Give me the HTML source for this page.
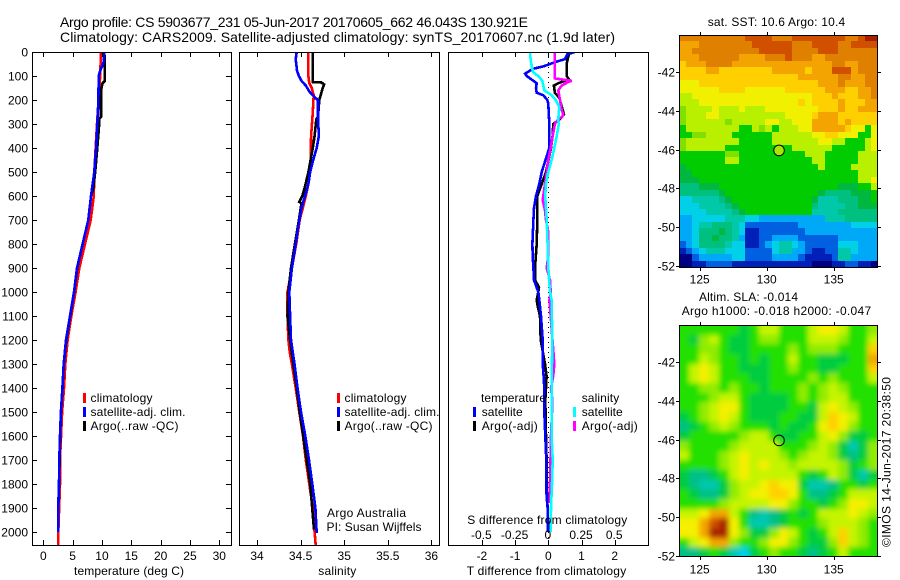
<!DOCTYPE html>
<html>
<head>
<meta charset="utf-8">
<title>Argo profile</title>
<style>
html,body{margin:0;padding:0;background:#fff;}
svg{display:block;}
text{font-family:"Liberation Sans",sans-serif;font-size:12px;fill:#000;}
.title{font-size:14px;}
</style>
</head>
<body>
<svg id="fig" xmlns="http://www.w3.org/2000/svg" width="900" height="580" viewBox="0 0 900 580">
  <rect x="0" y="0" width="900" height="580" fill="#fff"/>
  <defs>
    <clipPath id="clipP1"><rect x="32" y="52" width="200" height="494"/></clipPath>
    <clipPath id="clipP2"><rect x="239" y="52" width="201" height="494"/></clipPath>
    <clipPath id="clipP3"><rect x="448" y="52" width="201" height="494"/></clipPath>
    <clipPath id="clipM2"><rect x="679" y="325" width="199" height="232"/></clipPath>
    <filter id="smooth" x="-10%" y="-10%" width="120%" height="120%"><feGaussianBlur stdDeviation="2.6"/></filter>
  </defs>

  <text class="title" x="60" y="27" textLength="468" lengthAdjust="spacing">Argo profile: CS 5903677_231 05-Jun-2017 20170605_662 46.043S 130.921E</text>
  <text class="title" x="60" y="42" textLength="555" lengthAdjust="spacing">Climatology: CARS2009. Satellite-adjusted climatology: synTS_20170607.nc (1.9d later)</text>

  <g id="panels"></g>
  <g id="maps"></g>

  <g>
    <rect x="83" y="393" width="3" height="10" fill="#f00"/>
    <rect x="83" y="407" width="3" height="10" fill="#00f"/>
    <rect x="83" y="421" width="3" height="10" fill="#000"/>
    <text x="90.5" y="402" textLength="62">climatology</text>
    <text x="90.5" y="416" textLength="95">satellite-adj. clim.</text>
    <text x="90.5" y="430" textLength="88">Argo(..raw -QC)</text>
  </g>
  <g>
    <rect x="337" y="393" width="3" height="10" fill="#f00"/>
    <rect x="337" y="407" width="3" height="10" fill="#00f"/>
    <rect x="337" y="421" width="3" height="10" fill="#000"/>
    <text x="344.5" y="402" textLength="62">climatology</text>
    <text x="344.5" y="416" textLength="95">satellite-adj. clim.</text>
    <text x="344.5" y="430" textLength="88">Argo(..raw -QC)</text>
    <text x="327" y="517" textLength="79">Argo Australia</text>
    <text x="326.5" y="531" textLength="95">PI: Susan Wijffels</text>
  </g>
  <g>
    <text x="481" y="402" textLength="65">temperature</text>
    <text x="581.7" y="402" textLength="37.5">salinity</text>
    <rect x="473" y="407" width="3" height="10" fill="#00f"/>
    <rect x="473" y="421" width="3" height="10" fill="#000"/>
    <rect x="573" y="407" width="3" height="10" fill="#0ff"/>
    <rect x="573" y="421" width="3" height="10" fill="#f0f"/>
    <text x="481.7" y="416" textLength="41">satellite</text>
    <text x="481.7" y="430" textLength="56">Argo(-adj)</text>
    <text x="581.7" y="416" textLength="41">satellite</text>
    <text x="581.7" y="430" textLength="56">Argo(-adj)</text>
  </g>

  <text x="74" y="575" textLength="110">temperature (deg C)</text>
  <text x="318.3" y="575" textLength="38">salinity</text>
  <text x="466.7" y="575" textLength="159.5">T difference from climatology</text>
  <text x="467.3" y="524" textLength="160">S difference from climatology</text>

  <text x="707.7" y="26" textLength="137.5">sat. SST: 10.6 Argo: 10.4</text>
  <text x="699" y="301" textLength="99">Altim. SLA: -0.014</text>
  <text x="681.7" y="315" textLength="189.5">Argo h1000: -0.018 h2000: -0.047</text>
  <text transform="translate(890.5,547) rotate(-90)" textLength="170">©IMOS 14-Jun-2017 20:38:50</text>
</svg>

<script>
// ---------- tick values ----------
const depthTicks = [0,100,200,300,400,500,600,700,800,900,1000,1100,1200,1300,1400,1500,1600,1700,1800,1900,2000];
const tempTicks = [0,5,10,15,20,25,30];
const salinityTicks = [34,34.5,35,35.5,36];
const tDiffTicks = [-2,-1,0,1,2];
const sDiffTicks = [-0.5,-0.25,0,0.25,0.5];
const lonTicks = [125,130,135];
const latTicks = [42,44,46,48,50,52];

// ---------- temperature panel ----------
const tempClimDepth = [0,100,300,500,600,700,800,900,1000,1100,1200,1300,1400,1500,1700,1800,2000,2054];
const tempClim = [9.84,9.7,9.15,8.7,8.6,8.08,7.1,6.14,5.5,4.78,4.15,3.75,3.53,3.2,2.85,2.85,2.56,2.55];
const tempSatDepth = [0,40,60,80,100,200,300,400,500,600,700,800,900,1000,1100,1200,1300,1400,1500,1600,1700,1800,1900,2000];
const tempSat = [10.4,10.3,10.0,9.66,9.44,9.4,9.2,9.0,8.7,8.13,7.67,6.7,5.75,5.23,4.55,3.87,3.47,3.25,3.0,2.85,2.73,2.68,2.55,2.55];
const tempArgoDepth = [0,50,120,130,160,270,280,310,400,500,570,600,700,800,900,1000,1100,1200,1300,1400,1500,1600,1700,1800,1900,1990];
const tempArgo = [10.4,10.5,10.5,10.1,9.83,9.83,9.5,9.5,9.2,8.85,8.5,8.13,7.67,6.7,5.78,5.25,4.58,3.92,3.5,3.27,3.02,2.87,2.78,2.7,2.52,2.55];

// ---------- salinity panel ----------
const salClimDepth = [0,100,130,150,180,250,350,450,500,550,600,700,800,900,1000,1050,1100,1200,1250,1300,1400,1500,1600,1700,1800,1900,2000,2054];
const salClim = [34.59,34.59,34.6,34.627,34.65,34.64,34.62,34.615,34.61,34.59,34.56,34.49,34.45,34.4,34.35,34.345,34.35,34.36,34.375,34.4,34.444,34.485,34.527,34.56,34.6,34.64,34.66,34.673];
const salSatDepth = [0,30,80,100,120,140,170,190,200,280,350,400,450,500,550,600,650,700,800,900,1000,1100,1200,1300,1400,1500,1600,1700,1800,1900,2005];
const salSat = [34.455,34.444,34.46,34.48,34.51,34.56,34.61,34.665,34.7,34.7,34.71,34.685,34.645,34.61,34.59,34.55,34.51,34.485,34.444,34.4,34.37,34.38,34.39,34.43,34.465,34.505,34.554,34.596,34.634,34.67,34.685];
const salArgoDepth = [0,100,125,127,135,150,200,270,280,350,400,450,500,530,560,600,625,630,700,800,900,1000,1100,1200,1300,1400,1500,1800,1990];
const salArgo = [34.64,34.64,34.64,34.74,34.77,34.754,34.715,34.7,34.68,34.66,34.64,34.615,34.59,34.57,34.55,34.52,34.485,34.51,34.48,34.435,34.39,34.36,34.35,34.38,34.416,34.455,34.49,34.61,34.654];

// ---------- difference panel ----------
const dTempSatDepth = [0,10,30,40,60,70,90,100,115,130,150,170,180,200,215,300,400,500,550,600,650,700,800,850,900,950,1000,1033,1100,1200,1300,1330,1400,1500,1600,1700,1800,1850,1900,2000];
const dTempSat = [0.8,0.57,0.5,0.25,-0.15,-0.46,-0.7,-0.65,-0.5,-0.35,-0.37,-0.35,-0.15,-0.03,0,0.03,0.03,-0.2,-0.27,-0.37,-0.43,-0.45,-0.48,-0.47,-0.45,-0.43,-0.3,-0.27,-0.22,-0.17,-0.17,-0.15,-0.12,-0.12,-0.09,-0.06,-0.06,-0.05,-0.02,-0.01];
const dTempArgoDepth = [0,20,50,100,115,120,130,140,170,190,200,240,260,270,280,300,350,400,500,550,600,650,700,800,900,950,980,1000,1033,1060,1100,1200,1300,1350,1400,1450,1600,1700,1800,1900,2000];
const dTempArgo = [0.65,0.6,0.55,0.55,0.63,0.5,0.3,0.17,0.2,0.33,0.35,0.43,0.47,0.4,0.35,0.15,0.13,0.08,-0.07,-0.2,-0.33,-0.33,-0.33,-0.35,-0.4,-0.4,-0.28,-0.3,-0.35,-0.32,-0.25,-0.23,-0.1,-0.05,-0.07,-0.09,-0.07,-0.05,-0.05,-0.02,0];
const dSalSatDepth = [0,30,60,85,100,120,140,160,180,200,230,280,300,350,400,450,500,550,600,650,700,800,900,1000,1033,1200,1400,1450,1600,1700,1800,1900,2000];
const dSalSat = [-0.138,-0.133,-0.125,-0.113,-0.075,-0.045,-0.038,-0.03,0.025,0.056,0.083,0.075,0.08,0.063,0.045,0.025,0,-0.017,-0.023,-0.017,-0.012,-0.005,0,0.013,0.025,0.03,0.025,0.025,0.025,0.033,0.028,0.02,0.018];
const dSalArgoDepth = [0,100,110,115,120,125,140,160,200,240,260,270,280,300,350,400,450,500,550,600,617,660,700,750,850,900,950,1000,1033,1100,1300,1350,1400,1450,1500,1600,1800,1880];
const dSalArgo = [0.05,0.05,0.05,0.11,0.176,0.15,0.1,0.075,0.088,0.1,0.113,0.105,0.075,0.05,0.033,0.018,0,-0.012,-0.025,-0.038,-0.042,-0.025,-0.017,0,0,-0.012,0.013,0.018,0.008,0.018,0.045,0.037,0.02,0.03,0.028,0.02,0.013,0.013];

// ---------- maps (colour-scale level per grid cell, north to south) ----------
const argoLon = 130.921;
const argoLat = 46.043;
const sstLevels = [
[14,14,14,14,14,14,14,14,14,14,15,15,15,15,14,14,14,15,15,15,15,15,15,15,15,14,14,15,16,16],
[13,13,13,14,14,14,14,14,14,14,14,15,15,15,15,15,15,14,14,14,15,15,15,15,14,14,15,15,15,15],
[13,13,14,14,14,14,14,14,14,14,14,14,15,15,15,15,15,14,14,14,14,15,15,15,14,14,14,14,14,14],
[13,13,13,14,14,14,14,14,14,13,13,13,13,14,14,14,15,14,14,14,13,13,14,14,14,14,14,14,14,14],
[12,13,13,13,14,14,14,14,13,13,13,13,13,13,13,13,13,13,13,13,13,13,13,14,14,13,13,14,14,14],
[12,12,12,12,13,13,12,12,12,12,12,12,12,12,13,13,13,13,13,12,13,13,13,15,15,15,13,14,14,14],
[12,12,12,12,12,12,12,12,12,12,12,12,12,12,12,12,12,12,13,13,13,13,13,13,14,14,13,13,14,14],
[11,11,11,12,12,12,12,12,12,12,12,12,12,12,12,12,12,12,12,12,12,13,13,13,14,13,13,13,14,14],
[11,11,11,11,11,11,12,12,12,12,11,11,11,11,11,11,12,12,12,12,12,12,13,13,13,12,12,13,13,14],
[10,10,11,11,11,11,11,11,11,11,11,11,11,11,11,11,11,11,11,11,12,12,12,13,12,12,12,13,13,14],
[10,10,10,11,11,11,11,11,11,11,11,11,11,11,11,11,11,11,12,11,12,12,12,12,13,12,12,12,13,13],
[9,10,10,10,10,11,10,10,10,11,10,10,10,11,11,11,11,11,11,11,11,12,12,12,13,12,12,13,13,13],
[9,10,10,10,11,11,10,10,10,10,10,10,10,10,10,10,11,11,11,11,12,13,13,13,12,12,12,12,12,12],
[9,10,10,10,10,10,10,9,10,10,10,10,10,11,11,10,10,11,11,11,13,13,13,13,12,13,12,12,12,12],
[8,10,10,10,10,10,10,10,10,8,8,10,9,10,8,10,10,10,11,11,13,13,13,13,13,12,11,11,8,11],
[8,8,9,9,10,10,10,10,8,8,8,8,8,8,10,10,10,10,10,10,11,11,12,12,11,11,11,8,8,11],
[9,10,10,10,10,10,10,10,10,8,8,8,8,8,10,10,10,10,10,10,10,11,11,10,10,8,8,8,10,11],
[9,10,10,10,10,10,10,8,8,8,8,8,8,8,8,8,8,10,10,10,10,10,10,8,8,8,8,8,10,11],
[8,8,8,8,8,8,8,9,9,8,8,8,8,8,8,8,8,8,8,10,10,10,8,8,8,8,8,10,10,10],
[8,8,8,8,8,8,8,10,10,8,8,8,8,8,8,8,8,8,8,8,10,10,8,8,8,8,8,10,10,10],
[7,8,8,8,8,8,8,8,8,8,8,8,8,8,8,8,8,8,8,8,8,10,8,8,8,8,10,10,10,10],
[7,7,8,8,8,8,8,8,8,8,8,8,8,8,8,8,8,8,8,8,8,8,8,8,8,8,8,10,10,10],
[7,7,7,8,8,8,8,8,8,8,8,8,8,8,8,8,8,8,8,8,8,8,8,8,8,8,8,10,10,11],
[6,6,6,7,7,7,8,8,8,8,8,8,8,8,8,8,8,8,8,8,8,8,8,8,7,7,7,8,8,10],
[6,6,6,6,6,6,7,8,8,8,8,8,8,8,8,8,8,8,8,8,8,7,6,6,6,6,7,7,7,8],
[4,4,5,5,5,5,6,7,8,8,8,8,8,8,8,8,8,8,8,8,7,5,5,5,6,6,6,7,7,8],
[4,4,4,5,5,5,5,6,7,8,8,8,8,8,8,8,8,8,8,8,6,5,5,5,5,6,6,7,7,7],
[4,4,4,4,5,5,5,5,6,7,8,8,8,8,8,8,8,8,8,8,5,5,5,5,6,6,6,6,6,6],
[3,3,4,4,4,4,4,5,5,5,4,4,3,3,3,3,3,3,3,3,3,3,5,5,5,6,6,6,6,6],
[3,3,4,5,5,6,6,6,5,4,2,2,2,2,2,2,2,2,3,3,3,3,3,3,3,3,4,4,4,4],
[3,3,4,6,6,6,7,6,5,4,1,1,2,2,2,2,2,2,2,3,3,3,3,3,3,3,3,3,3,3],
[3,3,4,6,6,7,6,6,5,3,1,1,2,2,3,3,3,3,2,2,2,2,2,2,3,3,3,3,3,3],
[2,3,4,6,6,6,6,5,4,4,1,1,2,3,4,5,5,4,3,2,2,2,2,2,4,4,4,3,3,3],
[1,2,3,4,5,5,5,4,4,4,2,2,2,2,4,5,5,3,3,2,1,1,2,2,5,5,4,3,3,3],
[0,0,2,3,3,3,3,3,4,4,2,2,2,2,3,3,3,3,2,1,1,1,1,2,5,5,3,3,3,3],
[0,0,1,1,2,2,2,2,1,1,1,1,1,1,1,1,1,1,1,1,0,0,0,1,1,2,2,1,1,0]
];
const slaLevels = [
[8,8,8,8,8,8,7,8,10,10,8,8,8,10,11,11,10,8,8,9],
[8,7,9,10,8,7,7,8,9,9,8,8,8,10,10,10,9,8,8,10],
[8,8,9,9,8,7,7,8,8,8,8,9,8,9,9,9,8,8,8,12],
[8,8,10,9,8,8,7,8,7,8,8,10,8,8,7,7,7,8,8,13],
[8,10,11,10,8,8,7,7,7,8,8,9,8,8,7,7,8,8,8,12],
[8,10,11,10,8,8,8,7,7,8,8,8,8,9,8,9,8,8,8,10],
[8,8,9,9,8,9,8,8,7,8,8,8,9,8,9,10,9,8,8,8],
[8,8,8,9,10,10,8,7,7,7,7,8,9,8,9,10,10,8,8,8],
[8,8,9,10,11,11,8,7,7,7,7,8,8,7,10,11,10,9,8,8],
[7,8,9,10,11,10,8,7,7,7,8,8,7,7,10,12,11,10,8,8],
[6,7,8,9,10,9,8,8,8,7,8,7,7,8,11,12,11,9,8,8],
[7,8,8,8,8,8,9,10,10,8,7,7,8,8,10,11,9,7,7,8],
[9,8,8,8,8,9,10,10,10,10,8,8,8,9,10,9,7,5,7,9],
[10,8,8,8,9,10,11,10,10,10,9,8,9,10,10,9,7,6,7,9],
[8,8,8,8,9,10,11,10,11,10,10,9,10,10,10,10,9,7,8,9],
[7,6,6,7,8,10,11,10,10,10,10,10,8,7,8,10,9,7,5,7],
[7,6,5,5,7,9,10,10,11,12,11,11,7,5,5,6,8,8,7,8],
[8,7,6,6,7,9,10,11,11,12,12,11,8,6,6,7,8,10,10,10],
[8,8,8,8,9,10,10,10,10,11,11,9,8,8,7,8,9,11,11,10],
[10,10,11,13,13,10,8,6,5,6,7,8,7,8,10,10,10,11,10,9],
[11,11,13,15,16,11,8,5,5,6,7,8,8,8,9,10,10,10,9,8],
[11,11,13,16,16,11,9,7,7,9,11,10,8,7,8,10,12,10,9,8],
[8,10,11,13,13,9,8,8,9,11,11,9,8,7,7,9,12,10,9,8],
[6,6,7,8,7,5,4,7,8,9,8,8,7,6,7,8,10,8,8,8]
];

// ---------- colour scales ----------
const sstColors = ['#000080','#0020b8','#0060e0','#00a8f8','#00d0e8','#00c8a8','#00c080','#00b840','#00cc00','#80e000','#b8f000','#f0f000','#ffd000','#f4a400','#e08000','#d05000','#a82000'];
const slaColors = ['#000080','#0020b8','#0060e0','#00a8f8','#00d0e8','#00c8b0','#00c088','#00cc40','#20e000','#90ec00','#c4f400','#f4f000','#ffd000','#f4a400','#e08000','#d05000','#a82000'];
function levelColor(scale, v){
  return scale[Math.max(0,Math.min(scale.length-1,Math.round(v)))];
}

// ---------- axis functions ----------
function yDepth(d){ return 52 + d*0.24; }
function xTemp(t){ return 43.3 + t*5.867; }
function xSal(s){ return 257 + (s-34)*87.2; }
function xTDiff(t){ return 548.3 + t*33.2; }
function xSDiff(s){ return 548.3 + s*132.8; }
function xLon(lon){ return 699.7 + (lon-125)*13.4; }
function yLat1(lat){ return 72.3 + (lat-42)*19.33; }
function yLat2(lat){ return 362.3 + (lat-42)*19.33; }

const NS = 'http://www.w3.org/2000/svg';
function mk(parent, tag, attrs){
  const el = document.createElementNS(NS, tag);
  for (const k in attrs) el.setAttribute(k, attrs[k]);
  parent.appendChild(el);
  return el;
}
function tickLine(parent, name, x1, y1, x2, y2){
  const el = mk(parent, 'line', {x1:x1, y1:y1, x2:x2, y2:y2, stroke:'#000', 'stroke-width':1, 'shape-rendering':'crispEdges'});
  
  
  return el;
}
function label(parent, name, x, y, str, anchor){
  const el = mk(parent, 'text', {x:x, y:y, 'text-anchor':anchor});
  el.textContent = str;
  
  
  return el;
}
function frame(parent, name, x0, y0, x1, y1){
  const el = mk(parent, 'rect', {x:x0+0.5, y:y0+0.5, width:x1-x0, height:y1-y0, fill:'none', stroke:'#000', 'stroke-width':1, 'shape-rendering':'crispEdges'});
  
  
  return el;
}
function profile(parent, name, depths, values, xFn, color, clipId){
  const pts = depths.map(function(d,i){ return xFn(values[i]).toFixed(1)+','+yDepth(d).toFixed(1); }).join(' ');
  const el = mk(parent, 'polyline', {points:pts, fill:'none', stroke:color, 'stroke-width':2.6, 'stroke-linejoin':'miter', 'shape-rendering':'crispEdges', 'clip-path':'url(#'+clipId+')'});
  
  
  return el;
}
function grid(parent, name, levels, scale, x0, y0, x1, y1, bleed){
  const lonMin = 125 + (x0-699.7)/13.4, lonMax = 125 + (x1-699.7)/13.4;
  const nr = levels.length;
  levels.forEach(function(row,r){
    const nc = row.length;
    row.forEach(function(v,c){
      const lonA = lonMin + (lonMax-lonMin)*c/nc, lonB = lonMin + (lonMax-lonMin)*(c+1)/nc;
      let xa = Math.round(xLon(lonA)), xb = Math.round(xLon(lonB));
      let ya = Math.round(y0 + (y1-y0)*r/nr), yb = Math.round(y0 + (y1-y0)*(r+1)/nr);
      if (bleed){
        if (c===0) xa -= 14;
        if (c===nc-1) xb += 14;
        if (r===0) ya -= 14;
        if (r===nr-1) yb += 14;
      }
      const el = mk(parent, 'rect', {x:xa, y:ya, width:xb-xa, height:yb-ya, fill:levelColor(scale, v), 'shape-rendering':'crispEdges'});
      
      
    });
  });
}

const panels = document.getElementById('panels');
const maps = document.getElementById('maps');

// ---------- panel 1: temperature ----------
const p1 = mk(panels, 'g', {});


profile(p1, 'temperature-climatology-line', tempClimDepth, tempClim, xTemp, '#f00', 'clipP1');
profile(p1, 'temperature-argo-line', tempArgoDepth, tempArgo, xTemp, '#000', 'clipP1');
profile(p1, 'temperature-satellite-line', tempSatDepth, tempSat, xTemp, '#00f', 'clipP1');
frame(p1, 'temperature-plot-frame', 32, 52, 231, 545);
depthTicks.forEach(function(d){
  const y = Math.round(yDepth(d));
  tickLine(p1, 'depth-tick-left', 32, y+0.5, 37, y+0.5);
  tickLine(p1, 'depth-tick-right', 226, y+0.5, 231, y+0.5);
  label(p1, 'depth-tick-label', 28, y+4.5, String(d), 'end');
});
tempTicks.forEach(function(t){
  const x = Math.round(xTemp(t));
  tickLine(p1, 'temperature-tick-top', x+0.5, 52, x+0.5, 57);
  tickLine(p1, 'temperature-tick-bottom', x+0.5, 540, x+0.5, 545);
  label(p1, 'temperature-tick-label', xTemp(t), 560, String(t), 'middle');
});

// ---------- panel 2: salinity ----------
const p2 = mk(panels, 'g', {});


profile(p2, 'salinity-climatology-line', salClimDepth, salClim, xSal, '#f00', 'clipP2');
profile(p2, 'salinity-argo-line', salArgoDepth, salArgo, xSal, '#000', 'clipP2');
profile(p2, 'salinity-satellite-line', salSatDepth, salSat, xSal, '#00f', 'clipP2');
frame(p2, 'salinity-plot-frame', 239, 52, 439, 545);
salinityTicks.forEach(function(s){
  const x = Math.round(xSal(s));
  tickLine(p2, 'salinity-tick-top', x+0.5, 52, x+0.5, 57);
  tickLine(p2, 'salinity-tick-bottom', x+0.5, 540, x+0.5, 545);
  label(p2, 'salinity-tick-label', xSal(s), 560, String(s), 'middle');
});

// ---------- panel 3: differences ----------
const p3 = mk(panels, 'g', {});


const zeroLine = mk(p3, 'line', {x1:548.5, y1:yDepth(0), x2:548.5, y2:yDepth(2040), stroke:'#000', 'stroke-width':1, 'stroke-dasharray':'1 4', 'shape-rendering':'crispEdges'});


profile(p3, 't-difference-argo-line', dTempArgoDepth, dTempArgo, xTDiff, '#000', 'clipP3');
profile(p3, 't-difference-satellite-line', dTempSatDepth, dTempSat, xTDiff, '#00f', 'clipP3');
profile(p3, 's-difference-argo-line', dSalArgoDepth, dSalArgo, xSDiff, '#f0f', 'clipP3');
profile(p3, 's-difference-satellite-line', dSalSatDepth, dSalSat, xSDiff, '#0ff', 'clipP3');
frame(p3, 'difference-plot-frame', 448, 52, 648, 545);
tDiffTicks.forEach(function(t){
  const x = Math.round(xTDiff(t));
  tickLine(p3, 't-difference-tick-top', x+0.5, 52, x+0.5, 57);
  tickLine(p3, 't-difference-tick-bottom', x+0.5, 540, x+0.5, 545);
  label(p3, 't-difference-tick-label', xTDiff(t), 560, String(t), 'middle');
});
sDiffTicks.forEach(function(s){
  label(p3, 's-difference-tick-label', xSDiff(s)-0.5, 539, String(s), 'middle');
});

// ---------- map 1: SST ----------
const m1 = mk(maps, 'g', {});


grid(m1, 'sst-cell', sstLevels, sstColors, 679, 35, 878, 267, false);
frame(m1, 'sst-map-frame', 679, 35, 877, 267);
const marker1 = mk(m1, 'circle', {cx:xLon(argoLon), cy:yLat1(argoLat), r:5.3, fill:'#a8e800', stroke:'#000', 'stroke-width':1});



// ---------- map 2: SLA ----------
const m2 = mk(maps, 'g', {});


const m2clip = mk(m2, 'g', {'clip-path':'url(#clipM2)'});


const m2field = mk(m2clip, 'g', {filter:'url(#smooth)'});


grid(m2field, 'sla-cell', slaLevels, slaColors, 679, 325, 878, 557, true);
frame(m2, 'sla-map-frame', 679, 325, 877, 556);
const marker2 = mk(m2, 'circle', {cx:xLon(argoLon), cy:yLat2(argoLat), r:5.3, fill:'none', stroke:'#000', 'stroke-width':1});



// ---------- map ticks ----------
[[m1, yLat1, 35, 267, 283.5, 'sst'], [m2, yLat2, 325, 556, 573.5, 'sla']].forEach(function(cfg){
  const g = cfg[0], yFn = cfg[1], top = cfg[2], bot = cfg[3], baseline = cfg[4], pre = cfg[5];
  lonTicks.forEach(function(lon){
    const x = Math.round(xLon(lon));
    tickLine(g, pre+'-lon-tick-top', x+0.5, top-3, x+0.5, top);
    tickLine(g, pre+'-lon-tick-bottom', x+0.5, bot+1, x+0.5, bot+4);
    label(g, pre+'-lon-tick-label', xLon(lon), baseline, String(lon), 'middle');
  });
  latTicks.forEach(function(lat){
    const y = Math.round(yFn(lat));
    tickLine(g, pre+'-lat-tick-left', 676, y+0.5, 679, y+0.5);
    tickLine(g, pre+'-lat-tick-right', 878, y+0.5, 881, y+0.5);
    label(g, pre+'-lat-tick-label', 675, y+4.5, '-'+lat, 'end');
  });
});
</script>
</body>
</html>
